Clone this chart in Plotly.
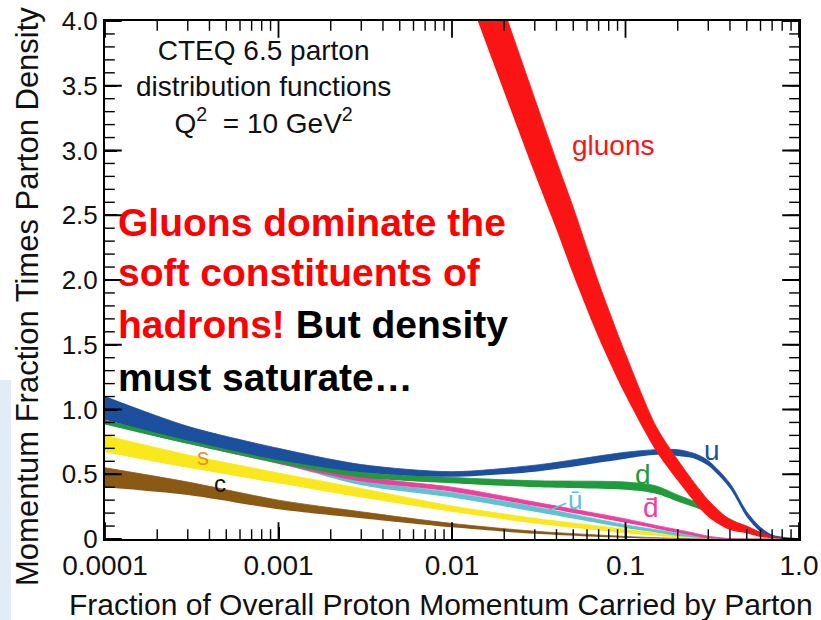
import plotly.graph_objects as go

# ---------------- data ----------------
x_q = [1e-4, 3e-4, 1e-3, 3e-3, 1e-2, 3e-2, 0.1, 0.15, 0.2, 0.25, 0.3, 0.4, 0.5, 0.6, 0.7, 0.85, 1.0]

u_lo = [0.92, 0.76, 0.61, 0.515, 0.48, 0.52, 0.62, 0.65, 0.64, 0.62, 0.565, 0.39, 0.17, 0.055, 0.015, 0.003, 0.0]
u_hi = [1.10, 0.87, 0.70, 0.575, 0.52, 0.57, 0.67, 0.69, 0.69, 0.66, 0.605, 0.43, 0.21, 0.09, 0.03, 0.01, 0.003]

d_lo = [0.885, 0.735, 0.585, 0.475, 0.43, 0.40, 0.38, 0.35, 0.29, 0.245, 0.20, 0.12, 0.06, 0.028, 0.01, 0.001, 0.0]
d_hi = [0.915, 0.77, 0.625, 0.515, 0.475, 0.45, 0.44, 0.41, 0.34, 0.29, 0.24, 0.155, 0.09, 0.05, 0.025, 0.006, 0.0]

dbar_lo = [0.89, 0.735, 0.58, 0.445, 0.365, 0.255, 0.125, 0.08, 0.048, 0.024, 0.006, 0.0, 0.0, 0.0, 0.0, 0.0, 0.0]
dbar_hi = [0.915, 0.765, 0.61, 0.48, 0.40, 0.285, 0.155, 0.105, 0.072, 0.045, 0.022, 0.003, 0.0, 0.0, 0.0, 0.0, 0.0]

ubar_lo = [0.895, 0.74, 0.585, 0.415, 0.32, 0.21, 0.085, 0.05, 0.025, 0.012, 0.004, 0.0, 0.0, 0.0, 0.0, 0.0, 0.0]
ubar_hi = [0.91, 0.76, 0.605, 0.45, 0.36, 0.25, 0.11, 0.072, 0.045, 0.026, 0.013, 0.002, 0.0, 0.0, 0.0, 0.0, 0.0]

s_lo = [0.67, 0.55, 0.43, 0.32, 0.21, 0.12, 0.045, 0.025, 0.012, 0.005, 0.002, 0.0, 0.0, 0.0, 0.0, 0.0, 0.0]
s_hi = [0.80, 0.65, 0.51, 0.39, 0.255, 0.16, 0.075, 0.045, 0.028, 0.016, 0.008, 0.002, 0.0, 0.0, 0.0, 0.0, 0.0]

c_lo = [0.40, 0.34, 0.23, 0.16, 0.09, 0.04, 0.008, 0.003, 0.0, 0.0, 0.0, 0.0, 0.0, 0.0, 0.0, 0.0, 0.0]
c_hi = [0.55, 0.44, 0.30, 0.21, 0.12, 0.06, 0.02, 0.01, 0.005, 0.002, 0.001, 0.0, 0.0, 0.0, 0.0, 0.0, 0.0]

x_g = [0.012, 0.02, 0.03, 0.04, 0.05, 0.07, 0.1, 0.15, 0.2, 0.3, 0.4, 0.5, 0.6, 0.7, 0.85, 1.0]
g_lo = [4.25, 3.45, 2.82, 2.39, 2.04, 1.555, 1.11, 0.68, 0.45, 0.17, 0.07, 0.045, 0.015, 0.005, 0.0, 0.0]
g_hi = [4.94, 4.08, 3.40, 2.92, 2.56, 1.98, 1.43, 0.87, 0.61, 0.30, 0.15, 0.10, 0.05, 0.02, 0.003, 0.0]

# axis ticks
x_tickvals = [1e-4, 1e-3, 1e-2, 1e-1, 1.0]
x_ticktext = ["0.0001", "0.001", "0.01", "0.1", "1.0"]
x_minor_mult = [2, 3, 4, 5, 6, 7, 8, 9]
y_tickvals = [0, 0.5, 1.0, 1.5, 2.0, 2.5, 3.0, 3.5, 4.0]
y_ticktext = ["0", "0.5", "1.0", "1.5", "2.0", "2.5", "3.0", "3.5", "4.0"]
y_minor_step = 0.1
X_RANGE = [1e-4, 1.0]
Y_RANGE = [0.0, 4.0]

# ---------------- styling ----------------
FONT = "Liberation Sans, Arial, Helvetica, sans-serif"
C_U = "#1d4f9f"
C_D = "#1f9a3c"
C_DBAR = "#ee3f9e"
C_UBAR = "#5ec3cf"
C_S = "#f9e81c"
C_C = "#8a5a14"
C_G = "#fb1414"

fig = go.Figure()


def band(x, lo, hi, color, name):
    fig.add_trace(go.Scatter(x=x, y=lo, mode="lines", line=dict(width=0, color=color, shape="spline", smoothing=0.8),
                             hoverinfo="skip", showlegend=False, name=name + " lo"))
    fig.add_trace(go.Scatter(x=x, y=hi, mode="lines", fill="tonexty", fillcolor=color,
                             line=dict(width=0.8, color=color, shape="spline", smoothing=0.8),
                             showlegend=False, name=name))


band(x_q, c_lo, c_hi, C_C, "c")
band(x_q, s_lo, s_hi, C_S, "s")
band(x_q, ubar_lo, ubar_hi, C_UBAR, "ubar")
band(x_q, dbar_lo, dbar_hi, C_DBAR, "dbar")
band(x_q, d_lo, d_hi, C_D, "d")
band(x_q, u_lo, u_hi, C_U, "u")
band(x_g, g_lo, g_hi, C_G, "gluons")

# inside tick marks on all four sides (half of each marker is clipped by the plot area)
x_minor_vals = [m * d for d in x_tickvals[:-1] for m in x_minor_mult]
n_minor_y = int(round((Y_RANGE[1] - Y_RANGE[0]) / y_minor_step))
y_minor_vals = [round(Y_RANGE[0] + i * y_minor_step, 3) for i in range(n_minor_y + 1)]


def tick_marks(xs, ys, symbol, length, width):
    fig.add_trace(go.Scatter(x=xs, y=ys, mode="markers", cliponaxis=True, hoverinfo="skip", showlegend=False,
                             marker=dict(symbol=symbol, size=2 * length, color="black",
                                         line=dict(width=width, color="black"))))


for yedge in Y_RANGE:
    tick_marks(x_minor_vals, [yedge] * len(x_minor_vals), "line-ns", 7, 1.4)
    tick_marks(x_tickvals, [yedge] * len(x_tickvals), "line-ns", 12, 1.8)
for xedge in X_RANGE:
    tick_marks([xedge] * len(y_minor_vals), y_minor_vals, "line-ew", 7, 1.4)
    tick_marks([xedge] * len(y_tickvals), y_tickvals, "line-ew", 12, 1.8)

L, R, T, B = 105, 22, 21, 81
W, H = 821, 620
PW, PH = W - L - R, H - T - B


def px(xp):
    return (xp - L) / PW


def py(yp):
    return (H - B - yp) / PH


ann = []
ann.append(dict(xref="paper", yref="paper", x=px(263), y=py(87), xanchor="center", yanchor="middle",
                text="CTEQ 6.5 parton<br>distribution functions<br>Q<sup>2</sup>  = 10 GeV<sup>2</sup>",
                showarrow=False, font=dict(family=FONT, size=28, color="#111111")))
big_lines = [
    ("<b>Gluons dominate the</b>", 222),
    ("<b>soft constituents of</b>", 272),
    ("<b>hadrons! <span style='color:#000000'>But density</span></b>", 324),
    ("<b><span style='color:#000000'>must saturate…</span></b>", 377),
]
for txt, yy in big_lines:
    ann.append(dict(xref="paper", yref="paper", x=px(116), y=py(yy), xanchor="left", yanchor="middle",
                    text=txt, showarrow=False, font=dict(family=FONT, size=39, color="#ff0000")))

ann.append(dict(x=-1.072, y=3.04, xref="x", yref="y", text="gluons", showarrow=False,
                font=dict(family=FONT, size=28, color=C_G)))
ann.append(dict(x=-0.50, y=0.68, xref="x", yref="y", text="u", showarrow=False,
                font=dict(family=FONT, size=28, color=C_U)))
ann.append(dict(x=-0.899, y=0.50, xref="x", yref="y", text="d", showarrow=False,
                font=dict(family=FONT, size=28, color=C_D)))
ann.append(dict(x=-0.853, y=0.245, xref="x", yref="y", text="d\u0304", showarrow=False,
                font=dict(family=FONT, size=28, color=C_DBAR)))
ann.append(dict(x=-1.437, y=0.225, xref="x", yref="y", text="\u016b", showarrow=True,
                arrowhead=0, arrowwidth=1.5, arrowcolor=C_UBAR, ax=25, ay=-10, standoff=0,
                font=dict(family=FONT, size=26, color=C_UBAR)))
ann.append(dict(x=-3.435, y=0.635, xref="x", yref="y", text="s", showarrow=False,
                font=dict(family=FONT, size=24, color="#e8902a")))
ann.append(dict(x=-3.337, y=0.425, xref="x", yref="y", text="c", showarrow=False,
                font=dict(family=FONT, size=24, color="#111111")))

ann.append(dict(xref="paper", yref="paper", x=px(27), y=py(297), xanchor="center", yanchor="middle",
                textangle=-90, text="Momentum Fraction Times Parton Density", showarrow=False,
                font=dict(family=FONT, size=31, color="#111111")))
ann.append(dict(xref="paper", yref="paper", x=px(441), y=py(604), xanchor="center", yanchor="middle",
                text="Fraction of Overall Proton Momentum Carried by Parton", showarrow=False,
                font=dict(family=FONT, size=30, color="#111111")))

fig.update_layout(
    template="none",
    width=W, height=H, autosize=False,
    margin=dict(l=L, r=R, t=T, b=B, pad=0),
    paper_bgcolor="white", plot_bgcolor="white",
    annotations=ann,
    showlegend=False,
    shapes=[dict(type="rect", xref="paper", yref="paper", x0=px(0), x1=px(11), y0=py(620), y1=py(380),
                 fillcolor="#e2ecf7", line=dict(width=0), layer="below")],
)

fig.update_xaxes(
    type="log", range=[-4, 0], tickmode="array", tickvals=x_tickvals, ticktext=x_ticktext,
    ticks="inside", ticklen=12, tickwidth=1.8, tickcolor="#000000",
    showline=True, linewidth=2, linecolor="black", mirror=True, showgrid=False, zeroline=False,
    tickfont=dict(family=FONT, size=28, color="#111111"),
)
fig.update_yaxes(
    range=Y_RANGE, tickmode="array", tickvals=y_tickvals, ticktext=y_ticktext,
    ticks="inside", ticklen=12, tickwidth=1.8, tickcolor="#000000",
    showline=True, linewidth=2, linecolor="black", mirror=True, showgrid=False, zeroline=False,
    tickfont=dict(family=FONT, size=26, color="#111111"),
)

fig.write_html("out.html")
